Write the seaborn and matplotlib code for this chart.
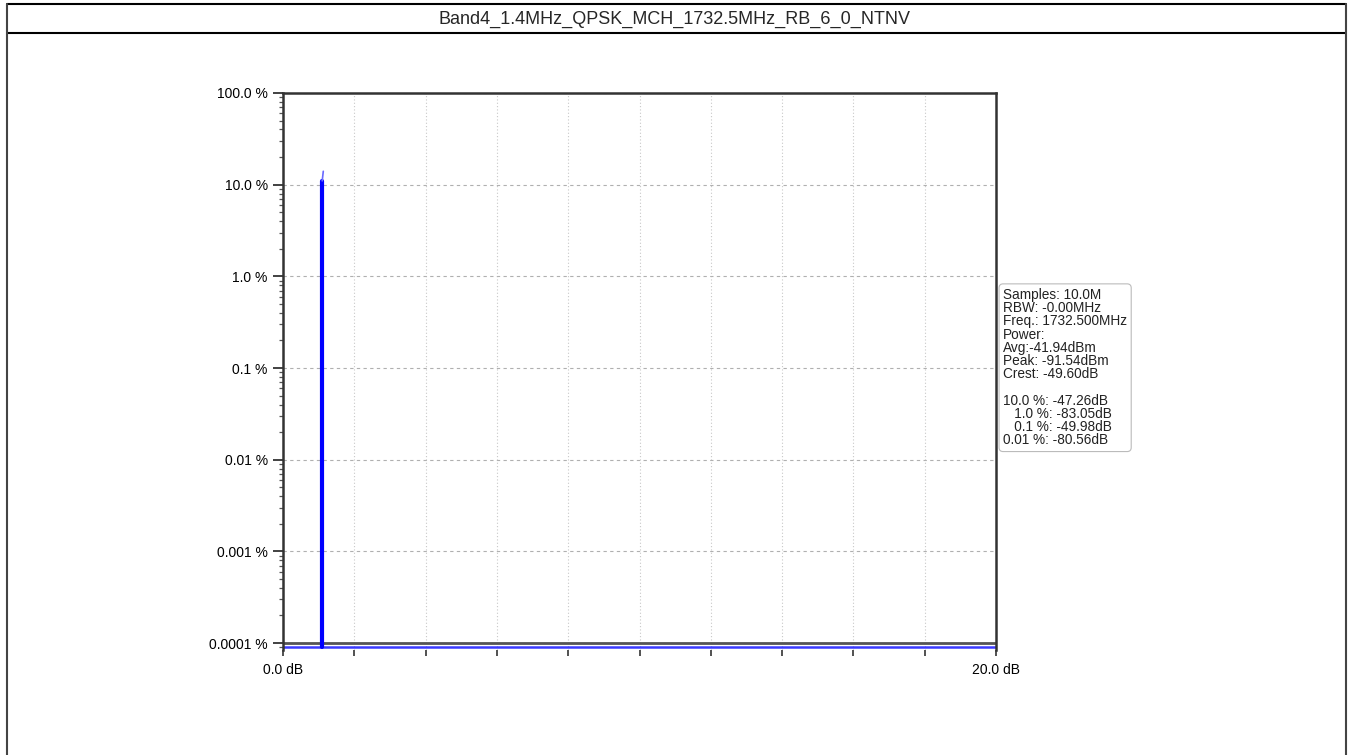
import numpy as np
import pandas as pd
import matplotlib
matplotlib.use("Agg")
import matplotlib.pyplot as plt
import seaborn as sns
from matplotlib.ticker import FixedLocator, LogLocator, NullFormatter

title = "Band4_1.4MHz_QPSK_MCH_1732.5MHz_RB_6_0_NTNV"

# CCDF trace: a near-vertical spike at ~1.1 dB, then flat along the floor
ccdf_db = [1.1, 1.1, 1.1]
ccdf_pct = [0.00009, 0.0001, 11.0]
tip_db = [1.1, 1.13]
tip_pct = [11.0, 14.0]
floor_db = [0.0, 20.0]
floor_pct = [0.00009, 0.00009]

y_ticks = [100, 10, 1, 0.1, 0.01, 0.001, 0.0001]
y_labels = ["100.0 %", "10.0 %", "1.0 %", "0.1 %", "0.01 %", "0.001 %", "0.0001 %"]
x_ticks = [0, 2, 4, 6, 8, 10, 12, 14, 16, 18, 20]
x_labels = ["0.0 dB"] + [""] * 9 + ["20.0 dB"]

info_text = ("Samples: 10.0M\nRBW: -0.00MHz\nFreq.: 1732.500MHz\nPower:\n"
             "Avg:-41.94dBm\nPeak: -91.54dBm\nCrest: -49.60dB\n\n"
             "10.0 %: -47.26dB\n   1.0 %: -83.05dB\n   0.1 %: -49.98dB\n0.01 %: -80.56dB")

sns.set_style("white")
plt.rcParams["font.family"] = ["Liberation Sans", "DejaVu Sans"]

fig = plt.figure(figsize=(13.48, 7.55), dpi=100)

# outer table frame
fig.add_artist(plt.Line2D([7 / 1348, 1346 / 1348], [1 - 4 / 755] * 2, color="black", lw=1.5))
fig.add_artist(plt.Line2D([7 / 1348, 1346 / 1348], [1 - 33 / 755] * 2, color="black", lw=1.5))
fig.add_artist(plt.Line2D([7 / 1348] * 2, [0, 1 - 4 / 755], color="#444444", lw=1.5))
fig.add_artist(plt.Line2D([1346 / 1348] * 2, [0, 1 - 4 / 755], color="#444444", lw=1.5))
fig.text(0.5, 1 - 19 / 755, title, ha="center", va="center", fontsize=13)

ax = fig.add_axes([283 / 1348, 1 - 650 / 755, (996 - 283) / 1348, (650 - 93) / 755])

df_spike = pd.DataFrame({"db": ccdf_db, "pct": ccdf_pct})
df_tip = pd.DataFrame({"db": tip_db, "pct": tip_pct})
df_floor = pd.DataFrame({"db": floor_db, "pct": floor_pct})
sns.lineplot(data=df_floor, x="db", y="pct", ax=ax, color="#3a3aff", lw=1.8,
             sort=False, estimator=None)
sns.lineplot(data=df_spike, x="db", y="pct", ax=ax, color="#0000ff", lw=3,
             sort=False, estimator=None)
sns.lineplot(data=df_tip, x="db", y="pct", ax=ax, color="#6a6aff", lw=1.2,
             sort=False, estimator=None)

ax.set_yscale("log")
ax.set_ylim(8.4e-5, 100)
ax.set_xlim(0, 20)
ax.set_xlabel("")
ax.set_ylabel("")

ax.yaxis.set_major_locator(FixedLocator(y_ticks))
ax.set_yticklabels(y_labels)
ax.yaxis.set_minor_locator(LogLocator(base=10, subs=np.arange(2, 10)))
ax.yaxis.set_minor_formatter(NullFormatter())
ax.set_xticks(x_ticks)
ax.set_xticklabels(x_labels)

ax.tick_params(axis="y", which="both", left=True)
ax.tick_params(axis="x", which="both", bottom=True)
ax.tick_params(axis="y", which="major", length=7, width=1.3, labelsize=10, colors="#333333", pad=4)
ax.tick_params(axis="y", which="minor", length=3, width=0.9, colors="#555555")
ax.tick_params(axis="x", which="major", length=4, width=1.2, labelsize=10, colors="#333333", pad=5)
for lbl in ax.get_yticklabels() + ax.get_xticklabels():
    lbl.set_color("black")

ax.grid(True, axis="y", which="major", color="#b0b0b0", ls=(0, (3, 3)), lw=0.8)
ax.grid(True, axis="x", which="major", color="#c8c8c8", ls=(0, (1, 2)), lw=0.8)
ax.axhline(1e-4, color="#555555", lw=2, zorder=1)

for side in ["top", "left", "right"]:
    ax.spines[side].set_color("#333333")
    ax.spines[side].set_linewidth(1.8)
ax.spines["bottom"].set_visible(False)

ax.text(1.01, 0.65, info_text, transform=ax.transAxes, fontsize=9.8, va="top", ha="left",
        linespacing=0.93, color="#222222",
        bbox=dict(boxstyle="round,pad=0.3", fc="white", ec="#bbbbbb", lw=0.8))

fig.savefig("out.png", dpi=100)
